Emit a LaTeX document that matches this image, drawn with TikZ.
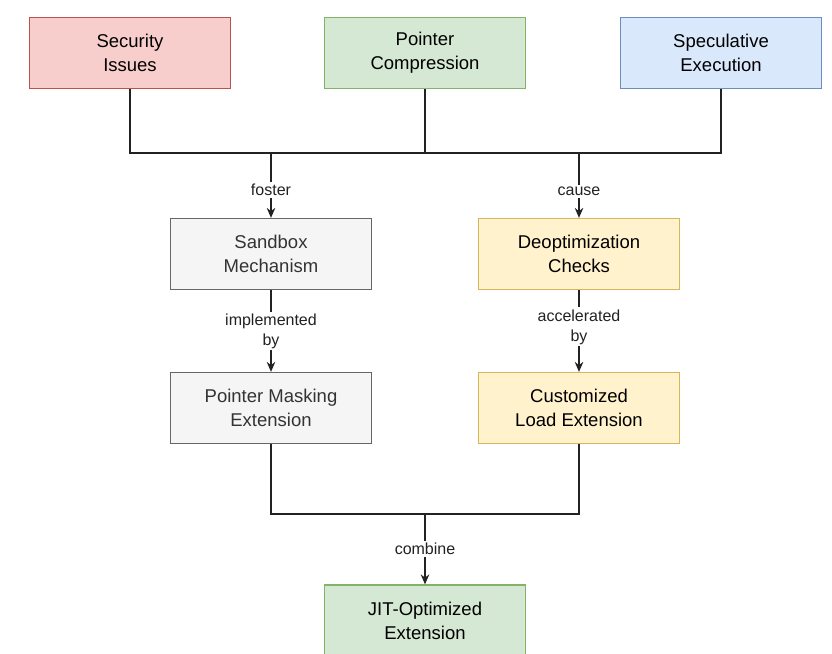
\documentclass[tikz,border=0pt]{standalone}
\usepackage{fontspec}
\setmainfont{Liberation Sans}
\usetikzlibrary{arrows.meta}
\definecolor{redF}{HTML}{F8CECC}\definecolor{redD}{HTML}{B85450}
\definecolor{grnF}{HTML}{D5E8D4}\definecolor{grnD}{HTML}{82B366}
\definecolor{bluF}{HTML}{DAE8FC}\definecolor{bluD}{HTML}{6C8EBF}
\definecolor{gryF}{HTML}{F5F5F5}\definecolor{gryD}{HTML}{666666}
\definecolor{gryT}{HTML}{333333}
\definecolor{ylwF}{HTML}{FFF2CC}\definecolor{ylwD}{HTML}{D6B656}
\definecolor{lineC}{HTML}{222222}
\tikzset{
  box/.style={draw, line width=1.2pt, minimum width=201pt, minimum height=71pt,
    inner sep=0pt, align=center, font=\fontsize{18.5}{24}\selectfont},
  redbox/.style={box, fill=redF, draw=redD},
  grnbox/.style={box, fill=grnF, draw=grnD},
  blubox/.style={box, fill=bluF, draw=bluD},
  grybox/.style={box, fill=gryF, draw=gryD, text=gryT},
  ylwbox/.style={box, fill=ylwF, draw=ylwD},
  conn/.style={draw=lineC, line width=1.4pt},
  arr/.style={conn, -{Stealth[length=10pt,width=8.5pt]}},
  lbl/.style={fill=white, inner sep=2pt, align=center, text=lineC,
    font=\fontsize{16}{20}\selectfont}
}
\begin{document}
\begin{tikzpicture}[x=1pt,y=-1pt]
\useasboundingbox[fill=white] (0,0) rectangle (832,653);
\node[redbox] (sec) at (130,53) {Security\\Issues};
\node[grnbox] (pc) at (425,53) {Pointer\\Compression};
\node[blubox] (spec) at (721,53) {Speculative\\Execution};
\node[grybox] (sand) at (271,254) {Sandbox\\Mechanism};
\node[ylwbox] (deopt) at (579,254) {Deoptimization\\Checks};
\node[grybox] (pm) at (271,408) {Pointer Masking\\Extension};
\node[ylwbox] (cl) at (579,408) {Customized\\Load Extension};
\node[grnbox] (jit) at (425,620.5) {JIT-Optimized\\Extension};
\coordinate (jc) at (425,153);
\coordinate (j1) at (271,153);
\coordinate (j2) at (579,153);
\coordinate (jb) at (425,514);
\draw[conn] (sec.south) |- (jc);
\draw[conn] (spec.south) |- (jc);
\draw[conn] (pc.south) -- (jc);
\draw[arr] (j1) -- node[lbl, pos=0.57]{foster} (sand.north);
\draw[arr] (j2) -- node[lbl, pos=0.59]{cause} (deopt.north);
\draw[arr] (sand.south) -- node[lbl, pos=0.5]{implemented\\by} (pm.north);
\draw[arr] (deopt.south) -- node[lbl, pos=0.45]{accelerated\\by} (cl.north);
\draw[conn] (pm.south) |- (jb);
\draw[conn] (cl.south) |- (jb);
\draw[arr] (jb) -- node[lbl]{combine} (jit.north);
\end{tikzpicture}
\end{document}
